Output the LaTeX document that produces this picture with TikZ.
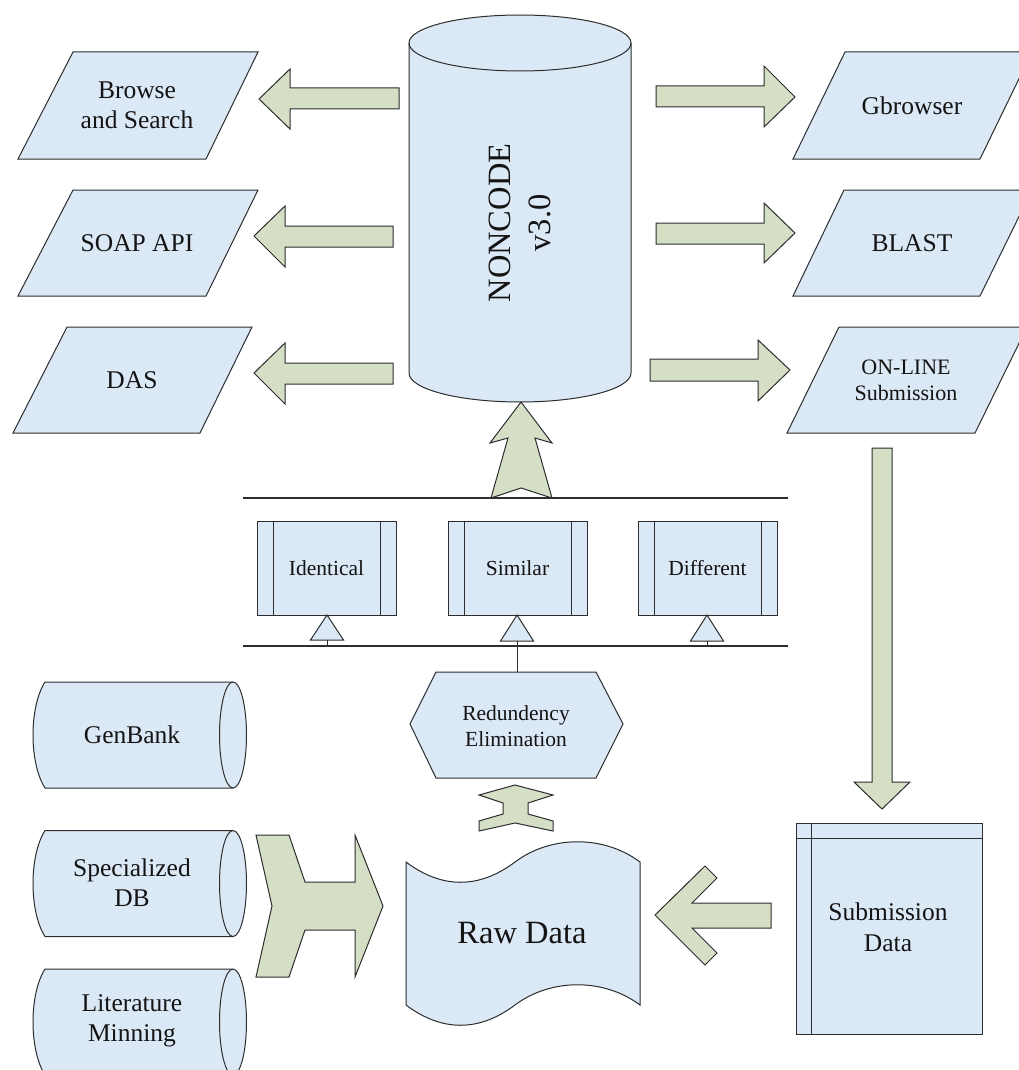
\documentclass[tikz,border=0pt]{standalone}
\usepackage{fontspec}
\setmainfont{Liberation Serif}
\definecolor{boxblue}{RGB}{219,232,246}
\definecolor{arrgreen}{RGB}{212,223,198}
\definecolor{linec}{RGB}{45,45,45}
\definecolor{txtc}{RGB}{20,20,20}
\tikzset{
  shp/.style={draw=linec, fill=boxblue, line width=1pt, line join=miter},
  arr/.style={draw=linec, fill=arrgreen, line width=1pt, line join=miter},
  ln/.style={draw=linec, line width=1.1pt},
  lbl/.style={font=\fontsize{25.5}{30}\selectfont, align=center, inner sep=0pt, text=txtc},
  lblsm/.style={font=\fontsize{21.5}{26}\selectfont, align=center, inner sep=0pt, text=txtc},
  lblbig/.style={font=\fontsize{32.5}{40}\selectfont, align=center, inner sep=0pt, text=txtc},
}
\begin{document}
\begin{tikzpicture}[x=1pt,y=-1pt]
\clip (0,0) rectangle (1019,1070);
\fill[white] (0,0) rectangle (1019,1070);

% ---------- left parallelograms ----------
\path[shp] (73,52) -- (258,52) -- (206,159) -- (18,159) -- cycle;
\path[shp] (73,190) -- (258,190) -- (206,296) -- (18,296) -- cycle;
\path[shp] (67,327) -- (252,327) -- (200,433) -- (13,433) -- cycle;
\node[lbl] (browse) at (137,105.5) {Browse\\and Search};
\node[lbl] (soap) at (137,243) {SOAP API};
\node[lbl] (das) at (132,380) {DAS};

% ---------- right parallelograms ----------
\path[shp] (845,52) -- (1032,52) -- (980,159) -- (793,159) -- cycle;
\path[shp] (844,190) -- (1032,190) -- (980,296) -- (793,296) -- cycle;
\path[shp] (839,327) -- (1027,327) -- (975,433) -- (787,433) -- cycle;
\node[lbl] (gbrowser) at (912,105.5) {Gbrowser};
\node[lbl] (blast) at (912,243) {BLAST};
\node[lbl, font=\fontsize{22}{26}\selectfont] (online) at (906,380) {ON-LINE\\Submission};

% ---------- NONCODE cylinder ----------
\path[shp] (409,43) -- (409,373)
  arc[start angle=180,end angle=360,x radius=111pt,y radius=29pt]
  -- (631,43)
  arc[start angle=0,end angle=180,x radius=111pt,y radius=28pt] -- cycle;
\draw[draw=linec, line width=1pt] (409,43) arc[start angle=180,end angle=360,x radius=111pt,y radius=28pt];
\node[lblbig, rotate=90] (noncode) at (520,223) {NONCODE\\v3.0};

% ---------- arrows out of NONCODE ----------
\path[arr] (259,99) -- (290,69) -- (290,88) -- (399,88) -- (399,109) -- (290,109) -- (290,129) -- cycle;
\path[arr] (254,236) -- (285,206) -- (285,226) -- (393,226) -- (393,247) -- (285,247) -- (285,267) -- cycle;
\path[arr] (254,373) -- (285,343) -- (285,363) -- (393,363) -- (393,384) -- (285,384) -- (285,404) -- cycle;
\path[arr] (795,97) -- (764,66) -- (764,86) -- (656,86) -- (656,107) -- (764,107) -- (764,127) -- cycle;
\path[arr] (795,233) -- (764,203) -- (764,223) -- (656,223) -- (656,244) -- (764,244) -- (764,263) -- cycle;
\path[arr] (790,370) -- (758,340) -- (758,359) -- (650,359) -- (650,381) -- (758,381) -- (758,401) -- cycle;

% ---------- up arrow into NONCODE ----------
\path[arr] (521,402) -- (552,443) -- (535,438) -- (552,498) -- (521,488) -- (491,498) -- (508,438) -- (490,443) -- cycle;

% ---------- bars ----------
\coordinate (ubL) at (243,498); \coordinate (ubR) at (788,498);
\coordinate (lbL) at (243,646); \coordinate (lbR) at (788,646);
\draw[ln] (ubL) -- (ubR);
\draw[ln] (lbL) -- (lbR);

% ---------- classification boxes ----------
\path[shp] (257,521) rectangle (396,615);
\draw[ln, line width=1pt] (273,521) -- (273,615) (380,521) -- (380,615);
\path[shp] (448,521) rectangle (587,615);
\draw[ln, line width=1pt] (464,521) -- (464,615) (571,521) -- (571,615);
\path[shp] (638,521) rectangle (777,615);
\draw[ln, line width=1pt] (654,521) -- (654,615) (761,521) -- (761,615);
\node[lblsm] (identical) at (326.5,568) {Identical};
\node[lblsm] (similar) at (517.5,568) {Similar};
\node[lblsm] (different) at (707.5,568) {Different};

% triangles and stems
\path[shp] (327,615) -- (343.5,640) -- (310.5,640) -- cycle;
\path[shp] (517,615) -- (533.5,641) -- (500.5,641) -- cycle;
\path[shp] (707,615) -- (723.5,641) -- (690.5,641) -- cycle;
\coordinate (tri1) at (327,640); \coordinate (bar1) at (327,646);
\coordinate (tri2) at (517,641); \coordinate (hextop) at (517,672);
\coordinate (tri3) at (707,641); \coordinate (bar3) at (707,646);
\draw[ln, line width=1pt] (tri1) -- (bar1);
\draw[ln, line width=1pt] (tri2) -- (hextop);
\draw[ln, line width=1pt] (tri3) -- (bar3);

% ---------- Redundency hexagon ----------
\path[shp] (436,672) -- (596,672) -- (623,724) -- (596,778) -- (436,778) -- (410,724) -- cycle;
\node[lblsm] (redund) at (516,726) {Redundency\\Elimination};

% I-shaped arrow
\path[arr] (515,785) -- (553,795) -- (528,803) -- (528,814) -- (553,821) -- (553,831) -- (515,823)
  -- (479,831) -- (479,821) -- (503,814) -- (503,803) -- (479,795) -- cycle;

% ---------- source drums ----------
\foreach \t in {682,830.5,969}{
  \path[shp] (45,\t) -- (233,\t)
    arc[start angle=90,end angle=-90,x radius=13.5pt,y radius=53pt]
    -- (45,{\t+106}) .. controls (29,{\t+81}) and (29,{\t+25}) .. (45,\t) -- cycle;
  \draw[draw=linec, line width=1pt] (233,\t) arc[start angle=90,end angle=270,x radius=13.5pt,y radius=53pt];
}
\node[lbl] (genbank) at (132,735) {GenBank};
\node[lbl] (specdb) at (132,883) {Specialized\\DB};
\node[lbl] (litmin) at (132,1021) {Literature\\Minning};

% big notched arrow
\path[arr] (256,835) -- (289,835) -- (305,882) -- (355,882) -- (355,835) -- (383,906) -- (355,977)
  -- (355,930) -- (305,930) -- (289,977) -- (256,977) -- (272,906) -- cycle;

% ---------- Raw Data ----------
\path[shp] (406,862) .. controls (442,889) and (479,889) .. (515,862)
  .. controls (551,835) and (604,835) .. (640,862) -- (640,1005)
  .. controls (604,978) and (551,978) .. (515,1005)
  .. controls (479,1032) and (442,1032) .. (406,1005) -- cycle;
\node[lblbig] (rawdata) at (522,933) {Raw Data};

% chevron arrow into Raw Data
\path[arr] (655,915) -- (705,866) -- (717,878) -- (692,903) -- (771,903) -- (771,928) -- (692,928)
  -- (717,953) -- (705,965) -- cycle;

% ---------- down arrow ----------
\path[arr] (872,448) -- (892,448) -- (892,782) -- (910,782) -- (882,809) -- (854,782) -- (872,782) -- cycle;

% ---------- Submission Data ----------
\path[shp] (796,823) rectangle (982,1034);
\draw[ln, line width=1pt] (811,823) -- (811,1034) (796,838) -- (982,838);
\node[lbl, font=\fontsize{25.5}{31}\selectfont] (subdata) at (888,927.5) {Submission\\Data};
\end{tikzpicture}
\end{document}
